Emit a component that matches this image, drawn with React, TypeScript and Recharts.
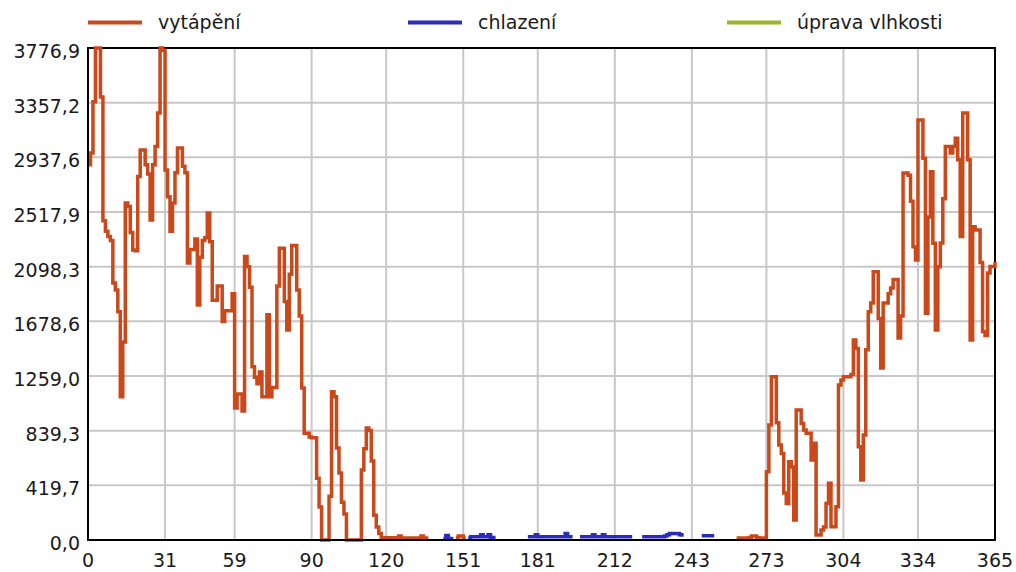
import React from "react";
import { LineChart, Line, XAxis, YAxis, CartesianGrid, ReferenceArea } from "recharts";

// ---- data ----
const seriesNames = ["vytápění", "chlazení", "úprava vlhkosti"];
const seriesColors = ["#CA481A", "#2B2BBE", "#9BB52A"];

const xTicks = [0, 31, 59, 90, 120, 151, 181, 212, 243, 273, 304, 334, 365];
const yTicks = [0, 419.7, 839.3, 1259.0, 1678.6, 2098.3, 2517.9, 2937.6, 3357.2, 3776.9];

// heating, days 0..152
const heatingSpring: (number | null)[] = [
  2880, 2970, 3365, 3777, 3777, 3400, 2450, 2370, 2330, 2300,
  1973, 1920, 1753, 1100, 1520, 2587, 2560, 2360, 2226, 2220,
  2790, 2994, 2994, 2880, 2810, 2457, 2880, 3020, 3278, 3777,
  3760, 2840, 2636, 2370, 2587, 2820, 3010, 3010, 2870, 2820,
  2126, 2230, 2230, 2310, 1804, 2170, 2300, 2320, 2510, 2290,
  1840, 1840, 1950, 1950, 1678, 1760, 1760, 1760, 1890, 1013,
  1120, 1120, 990, 2177, 2098, 1940, 1330, 1250, 1200, 1290,
  1100, 1100, 1730, 1100, 1170, 1170, 1950, 2240, 2240, 1830,
  1612, 2040, 2260, 2260, 1920, 1720, 1167, 820, 820, 790,
  785, 785, 475, 253, 0, 0, 0, 336, 1139, 1100,
  707, 515, 290, 200, 0, 0, 0, 0, 0, 0,
  537, 700, 860, 840, 607, 190, 100, 50, 18, 18,
  18, 18, 18, 18, 18, 30, 15, 15, 15, 15,
  15, 15, 15, 15, 30, 15, 15, 15, null, null,
  null, null, null, null, null, null, null, null, 15, 30,
  30, 15, 15,
];
const heatingAutumnStart = 261;
// heating, days 261..365
const heatingAutumn: number[] = [
  15, 15, 15, 15, 15, 20, 30, 30, 20, 15, 15, 15,
  524, 883, 1254, 1254, 900, 729, 664, 360, 281, 601,
  560, 153, 998, 998, 895, 845, 820, 820, 614, 742,
  38, 38, 77, 100, 281, 435, 102, 102, 255, 1190,
  1228, 1254, 1254, 1254, 1270, 1535, 1470, 716, 460, 806,
  1460, 1753, 1820, 2060, 2060, 1700, 1320, 1820, 1820, 1890,
  1935, 2000, 2000, 1550, 1720, 2817, 2817, 2800, 2600, 2252,
  2150, 3224, 3224, 2930, 1740, 2480, 2827, 2278, 1612, 2098,
  2280, 2620, 3020, 3020, 2970, 3020, 3085, 2920, 2330, 3278,
  3278, 2920, 1535, 2405, 2380, 2380, 2130, 1600, 1570, 2050,
  2100, 2100, 2134,
];

// cooling, summer segments (start day + daily values)
const coolingSegments: { start: number; values: number[] }[] = [
  { start: 143, values: [12, 35, 12, 12, 12] },
  { start: 153, values: [15, 25, 25, 25, 25, 40, 25, 25, 40, 20, 20, 20] },
  { start: 177, values: [25, 25, 25, 40, 25, 25, 25, 25, 25, 25, 25, 25, 25, 25, 25, 50, 25, 25, 25] },
  { start: 198, values: [25, 25, 25, 25, 25, 40, 25, 25, 25, 40, 25, 25, 25, 25, 25, 25, 25, 25, 25, 25, 25, 25] },
  { start: 223, values: [25, 25, 25, 25, 25, 25, 25, 25, 25, 30, 40, 50, 50, 50, 50, 40, 25] },
  { start: 247, values: [33, 33, 33, 33, 33, 33] },
];

// humidity treatment: no values in this year
const humidityValues: (number | null)[] = [];

const DAYS = 366;
const rows = Array.from({ length: DAYS }, (_, day) => {
  let heating: number | null = null;
  if (day < heatingSpring.length) heating = heatingSpring[day];
  else if (day >= heatingAutumnStart) heating = heatingAutumn[day - heatingAutumnStart] ?? null;
  let cooling: number | null = null;
  for (const seg of coolingSegments) {
    if (day >= seg.start && day < seg.start + seg.values.length) cooling = seg.values[day - seg.start];
  }
  const humidity = humidityValues[day] ?? null;
  return { day, heating, cooling, humidity };
});

const FONT = "'DejaVu Sans', sans-serif";
const fmt = (v: number) => v.toFixed(1).replace(".", ",");

const YTick = (props: any) => {
  const { x, y, payload } = props;
  return (
    <text x={x} y={y} dy={10} textAnchor="end" fontFamily={FONT} fontSize={19} fill="#1a1a1a">
      {fmt(payload.value)}
    </text>
  );
};

const XTick = (props: any) => {
  const { x, y, payload } = props;
  return (
    <text x={x} y={y} dy="0.71em" textAnchor="middle" fontFamily={FONT} fontSize={19} fill="#1a1a1a">
      {payload.value}
    </text>
  );
};

const legendX = [88, 408, 727];

export default function App() {
  return (
    <div style={{ position: "absolute", left: 0, top: 0, width: 1016, height: 572, background: "#fff" }}>
      <LineChart
        width={1016}
        height={572}
        data={rows}
        margin={{ top: 48, right: 21, bottom: 0, left: 0 }}
      >
        <CartesianGrid stroke="#c8c8c8" strokeWidth={2} />
        <XAxis
          dataKey="day"
          type="number"
          domain={[0, 365]}
          ticks={xTicks}
          interval={0}
          height={32}
          tickLine={false}
          tickSize={0}
          tickMargin={14}
          axisLine={{ stroke: "#000", strokeWidth: 2 }}
          tick={<XTick />}
        />
        <YAxis
          type="number"
          domain={[0, 3776.9]}
          ticks={yTicks}
          interval={0}
          width={88}
          tickLine={false}
          tickSize={0}
          tickMargin={8}
          axisLine={{ stroke: "#000", strokeWidth: 2 }}
          tick={<YTick />}
        />
        <ReferenceArea x1={0} x2={365} y1={0} y2={3776.9} fill="none" stroke="#000" strokeWidth={2} />
        <Line
          dataKey="humidity"
          name={seriesNames[2]}
          stroke={seriesColors[2]}
          strokeWidth={3.5}
          type="stepAfter"
          dot={false}
          activeDot={false}
          isAnimationActive={false}
        />
        <Line
          dataKey="cooling"
          name={seriesNames[1]}
          stroke={seriesColors[1]}
          strokeWidth={3.5}
          type="stepAfter"
          dot={false}
          activeDot={false}
          isAnimationActive={false}
        />
        <Line
          dataKey="heating"
          name={seriesNames[0]}
          stroke={seriesColors[0]}
          strokeWidth={3.5}
          type="stepAfter"
          dot={false}
          activeDot={false}
          isAnimationActive={false}
        />
      </LineChart>
      <svg width={1016} height={44} style={{ position: "absolute", left: 0, top: 0 }}>
        {seriesNames.map((name, i) => (
          <g key={name}>
            <line x1={legendX[i]} x2={legendX[i] + 54} y1={22.5} y2={22.5} stroke={seriesColors[i]} strokeWidth={4} />
            <text x={legendX[i] + 70} y={29} fontFamily={FONT} fontSize={19} fill="#1a1a1a">
              {name}
            </text>
          </g>
        ))}
      </svg>
    </div>
  );
}
